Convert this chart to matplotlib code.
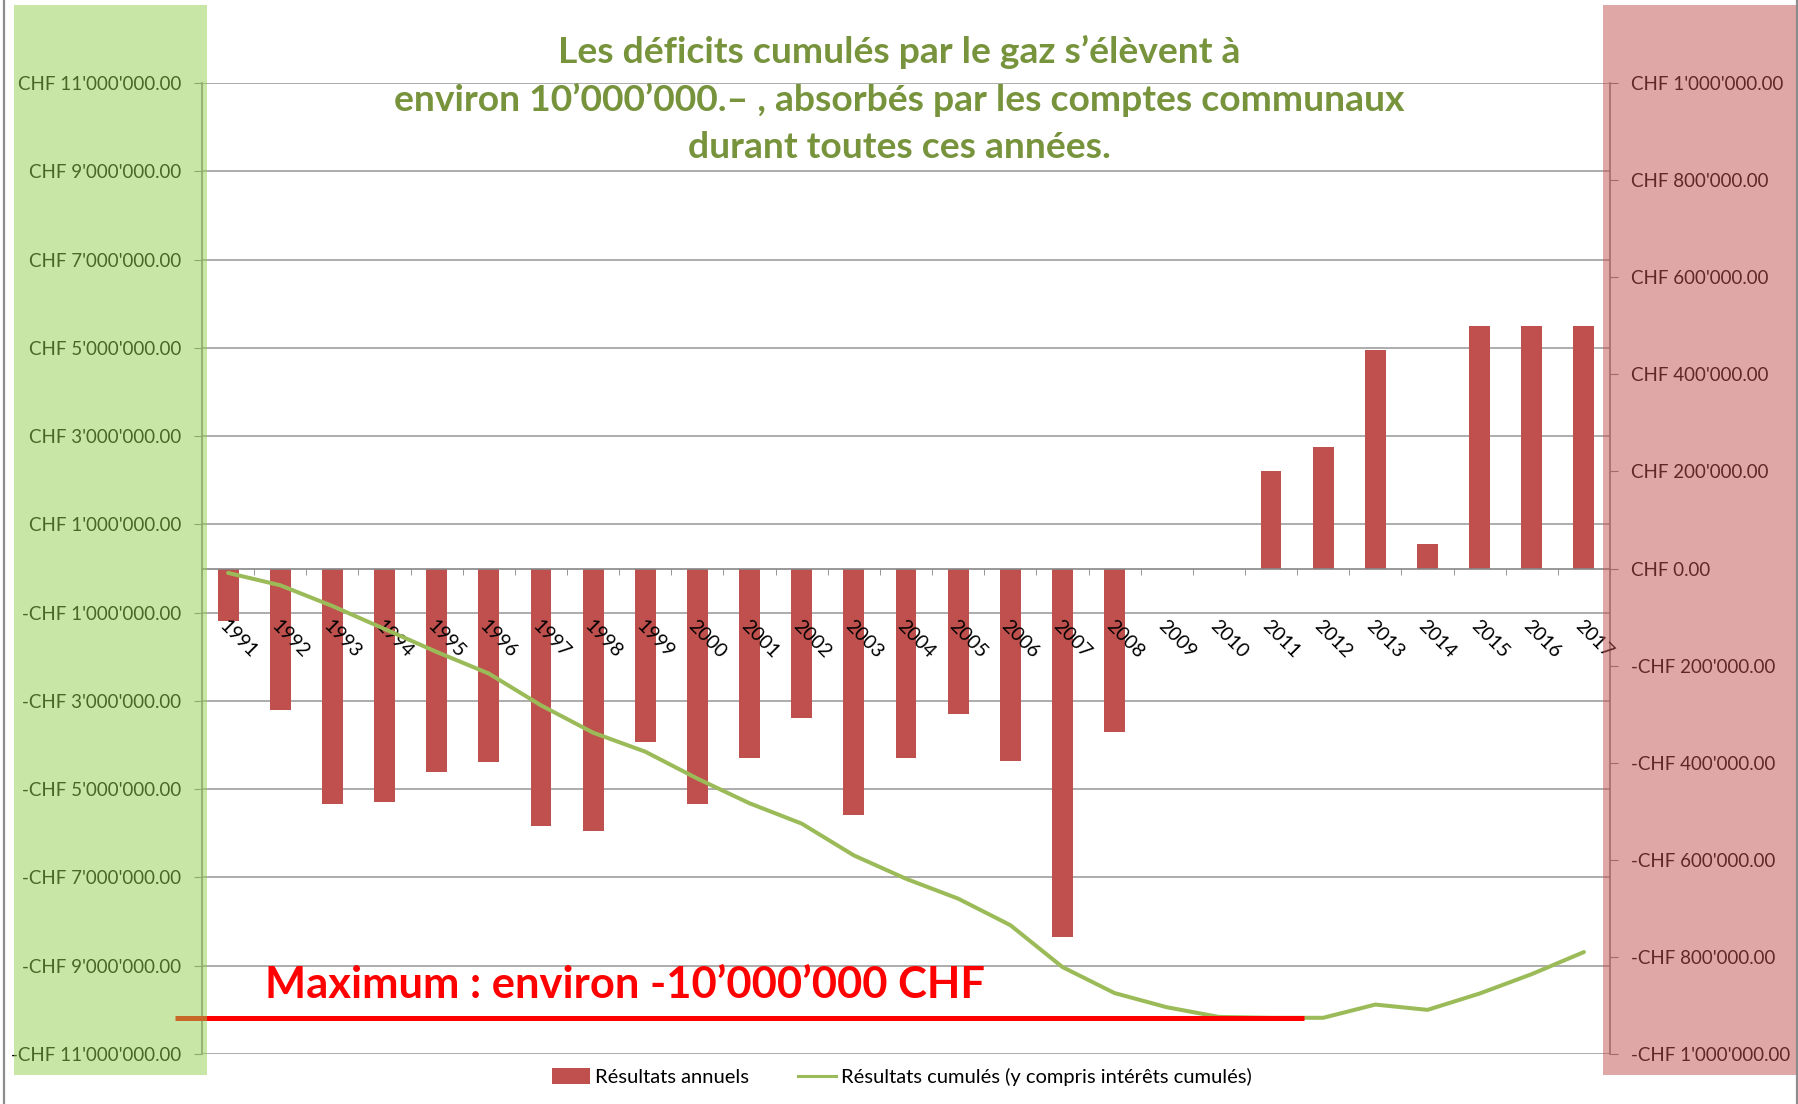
import matplotlib
matplotlib.use("Agg")
import matplotlib.pyplot as plt
import matplotlib.ticker as mticker
from matplotlib.patches import Rectangle, Patch
from matplotlib.lines import Line2D
from matplotlib.transforms import blended_transform_factory
import numpy as np

plt.rcParams['font.family'] = ['Lato', 'DejaVu Sans']

# ---------------- data ----------------
years = ['1991', '1992', '1993', '1994', '1995', '1996', '1997', '1998', '1999',
         '2000', '2001', '2002', '2003', '2004', '2005', '2006', '2007', '2008',
         '2009', '2010', '2011', '2012', '2013', '2014', '2015', '2016', '2017']

# annual results (CHF) -> right axis, bars
annual = [-108000, -291000, -485000, -480000, -420000, -399000, -530000, -541000,
          -357000, -485000, -391000, -307000, -508000, -391000, -299000, -397000,
          -758000, -337000, 0, 0, 201000, 250000, 450000, 50000, 500000, 500000,
          500000]

# cumulative results incl. interest (CHF) -> left axis, line
cumulative = [-100000, -380000, -850000, -1370000, -1890000, -2380000, -3100000,
              -3720000, -4150000, -4760000, -5320000, -5780000, -6500000,
              -7030000, -7480000, -8080000, -9030000, -9620000, -9940000,
              -10160000, -10180000, -10180000, -9880000, -10000000, -9630000,
              -9190000, -8690000]

left_ticks = [-11e6, -9e6, -7e6, -5e6, -3e6, -1e6, 1e6, 3e6, 5e6, 7e6, 9e6, 11e6]
right_ticks = [-1e6, -8e5, -6e5, -4e5, -2e5, 0, 2e5, 4e5, 6e5, 8e5, 1e6]

title_lines = ["Les déficits cumulés par le gaz s’élèvent à",
               "environ 10’000’000.– , absorbés par les comptes communaux",
               "durant toutes ces années."]
max_label = "Maximum : environ -10’000’000 CHF"
legend_labels = ["Résultats annuels",
                 "Résultats cumulés (y compris intérêts cumulés)"]

# ---------------- style ----------------
BAR = '#C0504D'
LINE = '#9BBB59'
TITLE = '#77933C'
GRID = '#A6A6A6'
AXIS = '#868686'
GREEN_BAND = '#92D050'
RED_BAND = '#C0504D'

W, H = 1799, 1104
def fx(px):
    return px / W
def fy(py):
    return 1 - py / H

fig = plt.figure(figsize=(W / 100, H / 100), dpi=100)
fig.patch.set_facecolor('white')

ax_bar = fig.add_axes([fx(202), fy(1054), fx(1610) - fx(202), fy(83) - fy(1054)])
ax_line = ax_bar.twinx()

# line axis (with gridlines) behind the bar axis
ax_line.set_zorder(0)
ax_bar.set_zorder(1)
ax_bar.patch.set_visible(False)
ax_line.patch.set_facecolor('white')
ax_bar.set_axisbelow(False)

x = np.arange(len(years))

# bars
ax_bar.bar(x, annual, width=0.4, color=BAR, zorder=2)
ax_bar.set_xlim(-0.5, len(years) - 0.5)
ax_bar.set_ylim(-1e6, 1e6)
ax_line.set_ylim(-11e6, 11e6)


def chf(v, pos=None):
    s = f"{abs(v):,.2f}".replace(',', "'")
    return ("-" if v < 0 else "") + "CHF " + s


# right axis (bars)
ax_bar.yaxis.tick_right()
ax_bar.yaxis.set_label_position('right')
ax_bar.set_yticks(right_ticks)
ax_bar.yaxis.set_major_formatter(mticker.FuncFormatter(chf))
ax_bar.tick_params(axis='y', which='major', direction='out', length=5.8,
                   color=AXIS, labelsize=13.5, labelcolor='black', pad=9,
                   right=True, left=False)
for s in ['left', 'top']:
    ax_bar.spines[s].set_visible(False)
ax_bar.spines['right'].set_color(AXIS)
ax_bar.spines['right'].set_linewidth(1.2)
ax_bar.spines['bottom'].set_position(('data', 0))
ax_bar.spines['bottom'].set_color(AXIS)
ax_bar.spines['bottom'].set_linewidth(1.2)

# category axis at zero
ax_bar.set_xticks(x)
ax_bar.set_xticklabels(years, rotation=-45, ha='left', va='top',
                       rotation_mode='anchor')
ax_bar.set_xticks(np.arange(len(years) + 1) - 0.5, minor=True)
ax_bar.tick_params(axis='x', which='major', length=0, pad=35, labelsize=14,
                   labelcolor='black')
ax_bar.tick_params(axis='x', which='minor', length=4.3, direction='out',
                   color=AXIS)

# left axis (cumulative line)
ax_line.yaxis.tick_left()
ax_line.yaxis.set_label_position('left')
ax_line.set_yticks(left_ticks)
ax_line.yaxis.set_major_formatter(mticker.FuncFormatter(chf))
ax_line.tick_params(axis='y', direction='out', length=5.8, color=AXIS,
                    labelsize=13.5, labelcolor='black', pad=9,
                    left=True, right=False)
for s in ['right', 'top', 'bottom']:
    ax_line.spines[s].set_visible(False)
ax_line.spines['left'].set_color(AXIS)
ax_line.spines['left'].set_linewidth(1.2)
ax_line.yaxis.grid(True, color=GRID, linewidth=1.3)
ax_line.set_axisbelow(True)

# cumulative line, drawn in front of bars but on left-axis scale
ax_bar.plot(x, cumulative, color=LINE, linewidth=2.9, zorder=4,
            transform=ax_line.transData, solid_capstyle='round',
            solid_joinstyle='round')
ax_bar.set_ylim(-1e6, 1e6)

# red "maximum" line at the minimum of the cumulative result
trans = blended_transform_factory(ax_bar.transAxes, ax_line.transData)
ymin = min(cumulative)
ax_bar.plot([-0.0192, 0.7827], [ymin, ymin], color='#FF0000', linewidth=3.6,
            transform=trans, clip_on=False, zorder=5, solid_capstyle='butt')

renderer = fig.canvas.get_renderer()


def fit_width(t, target):
    w = t.get_window_extent(renderer).width
    t.set_fontsize(t.get_fontsize() * target / w)


# red annotation text
mt = fig.text(fx(265), fy(998), max_label, color='#FF0000', fontsize=28,
              fontweight='bold', ha='left', va='baseline')
fit_width(mt, 721)

# title
tt = []
for line, base in zip(title_lines, [63, 111, 158]):
    tt.append(fig.text(0.5, fy(base), line, color=TITLE, fontsize=22,
                       fontweight='bold', ha='center', va='baseline'))
w2 = tt[1].get_window_extent(renderer).width
fs = tt[1].get_fontsize() * 1011 / w2
for t in tt:
    t.set_fontsize(fs)

# coloured translucent bands over the axes
fig.add_artist(Rectangle((fx(14), fy(1075)), fx(207) - fx(14), fy(5) - fy(1075),
                         transform=fig.transFigure, facecolor=GREEN_BAND,
                         alpha=0.5, edgecolor='none', zorder=10))
fig.add_artist(Rectangle((fx(1603), fy(1075)), fx(1796) - fx(1603), fy(5) - fy(1075),
                         transform=fig.transFigure, facecolor=RED_BAND,
                         alpha=0.5, edgecolor='none', zorder=10))

# chart border lines
for xb in [4, 1797]:
    fig.add_artist(Line2D([fx(xb), fx(xb)], [0, 1], transform=fig.transFigure,
                          color='#8C8C8C', linewidth=1.6, zorder=11))

# legend
handles = [Patch(facecolor=BAR, edgecolor='none'),
           Line2D([], [], color=LINE, linewidth=2.2)]
fig.legend(handles, legend_labels, loc='center',
           bbox_to_anchor=(fx(902), fy(1077)), ncol=2, frameon=False,
           fontsize=14.5, handlelength=1.9, handleheight=0.8,
           handletextpad=0.25, columnspacing=2.4)

fig.savefig('out.png', dpi=100, facecolor='white')
